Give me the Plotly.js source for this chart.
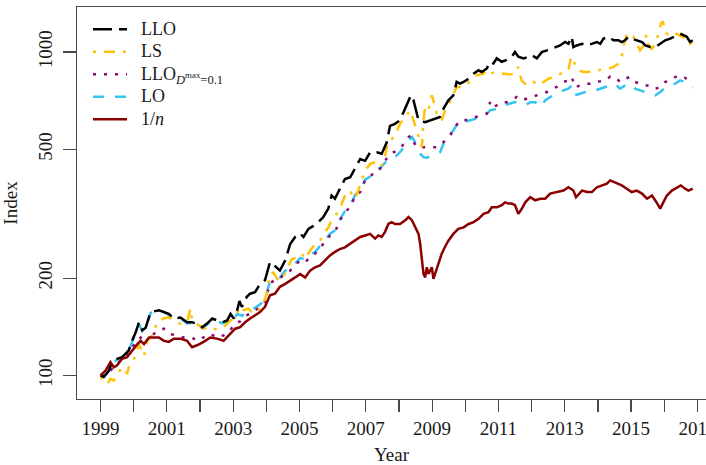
<!DOCTYPE html>
<html>
<head>
<meta charset="utf-8">
<script src="https://cdn.plot.ly/plotly-3.0.1.min.js"></script>
<style>
  html, body { margin: 0; padding: 0; background: #fff; }
  #chart { width: 706px; height: 465px; }
</style>
</head>
<body>
<div id="chart"></div>
<script>
// LLO portfolio index
const lloYears = [1999.00,1999.10,1999.25,1999.35,1999.50,1999.65,1999.75,1999.85,1999.95,2000.06,2000.16,2000.26,2000.36,2000.51,2000.76,2000.91,2001.06,2001.21,2001.41,2001.61,2001.76,2001.91,2002.07,2002.22,2002.37,2002.52,2002.67,2002.82,2002.92,2003.02,2003.12,2003.19,2003.26,2003.41,2003.51,2003.66,2003.81,2003.96,2004.11,2004.26,2004.41,2004.57,2004.72,2004.87,2005.02,2005.12,2005.27,2005.42,2005.57,2005.72,2005.87,2005.97,2006.07,2006.22,2006.37,2006.53,2006.68,2006.83,2006.98,2007.13,2007.33,2007.48,2007.63,2007.73,2007.88,2007.98,2008.14,2008.29,2008.36,2008.44,2008.52,2008.59,2008.79,2008.94,2009.09,2009.24,2009.34,2009.49,2009.64,2009.74,2009.84,2009.95,2010.10,2010.25,2010.40,2010.50,2010.65,2010.75,2010.85,2010.95,2011.10,2011.25,2011.40,2011.50,2011.60,2011.76,2011.91,2012.01,2012.16,2012.31,2012.46,2012.61,2012.76,2012.86,2013.01,2013.11,2013.21,2013.26,2013.36,2013.52,2013.67,2013.82,2013.97,2014.07,2014.17,2014.32,2014.47,2014.62,2014.72,2014.82,2014.92,2015.02,2015.17,2015.33,2015.43,2015.58,2015.73,2015.88,2016.03,2016.18,2016.33,2016.48,2016.58,2016.68,2016.78,2016.86];
const lloValues = [100,99,103.6,110,112.6,114,116.7,119.5,128,136,146,138,140.5,157,159,157,155,150,151,146,146,144.5,141,145,150,148,146,148,155,150,159,170,163,175,179,181,192,197,224,218,211,227,255,268,275,268,284,290,298,309,328,360,352,378,405,410,440,467,461,490,490,485,525,591,600,610,652,709,735,709,660,615,607,615,622,630,667,709,735,808,798,808,827,857,878,867,890,933,922,956,933,945,967,1000,967,956,967,978,956,1000,1012,1024,1036,1048,1074,1060,1115,1036,1048,1060,1048,1060,1074,1060,1100,1115,1087,1087,1074,1087,1115,1100,1087,1074,1048,1036,1036,1060,1087,1100,1118,1139,1128,1115,1074,1087];

// LS portfolio index
const lsYears = [1999.00,1999.10,1999.20,1999.30,1999.40,1999.50,1999.65,1999.75,1999.80,1999.85,1999.95,2000.06,2000.16,2000.26,2000.31,2000.41,2000.51,2000.61,2000.76,2000.91,2001.06,2001.21,2001.41,2001.61,2001.71,2001.76,2001.91,2002.11,2002.31,2002.51,2002.71,2002.86,2003.02,2003.17,2003.27,2003.31,2003.46,2003.61,2003.76,2003.91,2004.01,2004.11,2004.21,2004.36,2004.51,2004.67,2004.77,2004.92,2005.07,2005.17,2005.32,2005.47,2005.62,2005.77,2005.87,2005.97,2006.12,2006.27,2006.38,2006.53,2006.63,2006.73,2006.88,2006.98,2007.13,2007.28,2007.38,2007.48,2007.58,2007.68,2007.78,2007.88,2008.03,2008.19,2008.34,2008.44,2008.54,2008.64,2008.69,2008.74,2008.79,2008.89,2008.99,2009.04,2009.14,2009.29,2009.39,2009.49,2009.74,2009.95,2010.15,2010.35,2010.55,2010.65,2010.75,2010.90,2011.05,2011.20,2011.35,2011.50,2011.60,2011.70,2011.81,2011.96,2012.06,2012.21,2012.36,2012.51,2012.66,2012.76,2012.96,2013.11,2013.18,2013.24,2013.31,2013.41,2013.57,2013.72,2013.87,2014.02,2014.17,2014.32,2014.47,2014.62,2014.72,2014.79,2014.87,2014.97,2015.07,2015.17,2015.27,2015.38,2015.46,2015.53,2015.63,2015.73,2015.83,2015.90,2015.96,2016.03,2016.13,2016.23,2016.38,2016.53,2016.68,2016.78,2016.86];
const lsValues = [99,96.5,94,97.6,96.5,101,106,103.6,101,106,110,115,125,117,115,128,131,138,148,150,151.5,148,144.5,146,161,148,144.5,139.5,141,138.5,141,146,151.5,159,155,159,161,155,159,166.6,179,206,208,197,201,219,229,232,238,229,243,255,261,278,287,302,316,339,360,373,352,363,401,430,451,456,461,446,478,532,538,552,600,630,660,615,572,533,508,615,675,660,735,709,645,615,660,684,780,780,816,848,857,878,857,867,857,857,852,857,900,816,797,790,808,790,808,827,838,847,868,878,954,967,911,878,868,868,878,878,889,889,899,920,967,1060,1139,1115,1115,1060,1012,1048,1128,1048,1024,1060,1139,1222,1245,1152,1128,1115,1139,1115,1100,1060,1074];

// LLO with drawdown limit D^max = 0.1
const llodYears = [1999.00,1999.30,1999.50,1999.75,1999.95,2000.06,2000.21,2000.31,2000.46,2000.61,2000.76,2000.91,2001.06,2001.31,2001.51,2001.76,2001.91,2002.11,2002.31,2002.51,2002.71,2002.91,2003.06,2003.21,2003.36,2003.51,2003.66,2003.81,2003.96,2004.11,2004.26,2004.41,2004.57,2004.72,2004.87,2005.02,2005.17,2005.32,2005.47,2005.62,2005.77,2005.92,2006.07,2006.22,2006.37,2006.53,2006.68,2006.83,2006.98,2007.13,2007.28,2007.43,2007.58,2007.73,2007.88,2008.03,2008.19,2008.29,2008.36,2008.44,2008.54,2008.74,2008.94,2009.14,2009.24,2009.39,2009.54,2009.69,2009.84,2009.99,2010.15,2010.30,2010.45,2010.65,2010.75,2010.80,2010.95,2011.10,2011.25,2011.40,2011.55,2011.70,2011.86,2012.01,2012.16,2012.31,2012.46,2012.61,2012.76,2012.86,2012.96,2013.11,2013.21,2013.31,2013.47,2013.62,2013.77,2013.92,2014.07,2014.22,2014.37,2014.52,2014.67,2014.82,2014.97,2015.12,2015.27,2015.43,2015.58,2015.73,2015.88,2016.03,2016.18,2016.33,2016.48,2016.63,2016.76,2016.86];
const llodValues = [100,103.6,109,114,121,128,131,125,130,134.5,138,139.5,134.5,133,131,131,128,131,134.5,131,133,138,145,147,153,155,159,163,169,193,197,199,208,211,219,227,224,232,238,249,258,271,278,302,320,331,360,369,401,410,430,435,461,484,492,502,527,546,552,527,508,508,508,508,514,533,552,586,615,615,622,630,637,645,700,675,684,700,700,709,726,709,718,726,735,744,752,770,780,795,808,817,837,778,788,798,798,808,812,817,840,837,808,827,837,808,798,788,788,770,779,808,817,837,847,833,808,803];

// LO portfolio index
const loYears = [1999.00,1999.10,1999.25,1999.35,1999.50,1999.65,1999.75,1999.85,1999.95,2000.06,2000.16,2000.26,2000.36,2000.51,2000.76,2000.91,2001.06,2001.21,2001.41,2001.61,2001.76,2001.91,2002.07,2002.22,2002.37,2002.52,2002.67,2002.82,2002.92,2003.02,2003.12,2003.27,2003.36,2003.51,2003.66,2003.81,2003.96,2004.11,2004.26,2004.41,2004.57,2004.72,2004.87,2005.02,2005.17,2005.32,2005.47,2005.62,2005.77,2005.92,2006.07,2006.22,2006.37,2006.53,2006.68,2006.83,2006.98,2007.13,2007.28,2007.43,2007.58,2007.73,2007.88,2008.03,2008.19,2008.29,2008.39,2008.46,2008.54,2008.64,2008.74,2008.84,2008.94,2009.04,2009.14,2009.24,2009.34,2009.49,2009.64,2009.79,2009.95,2010.15,2010.30,2010.45,2010.60,2010.75,2010.95,2011.15,2011.35,2011.50,2011.65,2011.81,2011.96,2012.11,2012.26,2012.41,2012.56,2012.71,2012.96,2013.11,2013.21,2013.31,2013.47,2013.62,2013.77,2013.92,2014.07,2014.22,2014.37,2014.52,2014.67,2014.82,2014.97,2015.12,2015.27,2015.43,2015.58,2015.73,2015.88,2016.03,2016.18,2016.33,2016.48,2016.63,2016.76,2016.86];
const loValues = [100,99.5,103,109,112,113,116,119,127,135,144,137,140,156,160,157,154,149,150,145,145,143.5,140,144,149,147,145,147,152,149,155,153,156,158,162,166,172,196,199,201,211,215,222,231,228,236,241,252,262,274,281,304,322,334,362,372,403,412,432,438,455,460,473,490,514,533,546,533,508,485,473,471,475,478,485,490,520,546,572,607,607,615,622,630,637,660,667,684,692,700,692,684,700,700,675,709,726,740,761,770,788,735,743,752,752,761,770,775,788,798,770,788,798,770,761,752,747,735,752,775,788,798,817,808,788,775];

// Equally weighted (1/n) portfolio index
const eqYears = [1999.00,1999.15,1999.30,1999.40,1999.50,1999.65,1999.80,1999.95,2000.11,2000.21,2000.31,2000.46,2000.61,2000.76,2000.91,2001.06,2001.21,2001.41,2001.61,2001.76,2001.91,2002.11,2002.31,2002.51,2002.71,2002.91,2003.06,2003.21,2003.36,2003.51,2003.66,2003.81,2003.96,2004.11,2004.26,2004.41,2004.57,2004.72,2004.87,2005.02,2005.17,2005.32,2005.47,2005.62,2005.77,2005.92,2006.07,2006.22,2006.37,2006.53,2006.68,2006.83,2006.98,2007.13,2007.28,2007.38,2007.48,2007.58,2007.68,2007.78,2007.88,2008.03,2008.19,2008.29,2008.39,2008.49,2008.59,2008.64,2008.69,2008.74,2008.79,2008.84,2008.89,2008.99,2009.04,2009.09,2009.19,2009.29,2009.39,2009.49,2009.64,2009.79,2009.95,2010.10,2010.25,2010.40,2010.55,2010.70,2010.80,2010.95,2011.10,2011.20,2011.30,2011.40,2011.50,2011.60,2011.70,2011.81,2011.96,2012.11,2012.26,2012.41,2012.56,2012.76,2012.96,2013.11,2013.26,2013.34,2013.52,2013.67,2013.82,2013.97,2014.12,2014.27,2014.37,2014.47,2014.57,2014.72,2014.87,2015.02,2015.17,2015.33,2015.48,2015.63,2015.76,2015.88,2015.98,2016.08,2016.23,2016.38,2016.50,2016.63,2016.73,2016.86];
const eqValues = [100,103.6,110,106,107.5,112.6,114,119.5,125,128,125,131,131,131,128,127,130,130,128,122.3,124,127,131,130,128,134.5,139.5,141,146,150,153,157,163,177,179,188,192,197,201,206,201,211,216,219,227,235,241,246,249,255,261,268,271,274,265,271,268,278,294,298,294,294,302,309,302,287,274,255,227,206,201,216,206,216,199,206,221,238,250,261,274,284,287,294,298,305,316,320,331,331,336,343,340,340,336,316,327,343,356,348,352,352,365,369,373,382,373,356,373,369,369,382,387,392,401,397,392,387,378,369,373,365,352,360,344,328,344,360,373,382,387,378,373,378];

// Axis ticks: labelled every other year, a plain tick in between
const xLabelYears = [1999,2001,2003,2005,2007,2009,2011,2013,2015,2017];
const xLabelText = ["1999","2001","2003","2005","2007","2009","2011","2013","2015","2017"];
const yTickValues = [100,200,500,1000];
const yTickLabels = ["100","200","500","1000"];

const FONT = "Liberation Serif, Times New Roman, serif";
const AXIS_COLOR = "#4a4a4a";

// legend rows stay compact (legend font 15px) while the entry text is drawn at 18px,
// with a little extra room between the line sample and the text
function big(s) { return '<span style="font-size:18px">&nbsp;&nbsp;' + s + '</span>'; }

function series(x, y, name, color, dash, rank) {
  return {
    type: "scatter", mode: "lines", x: x, y: y, name: big(name),
    legendrank: rank,
    line: { color: color, width: 2.5, dash: dash },
    hoverinfo: "skip"
  };
}

// Drawing order: the 1/n line sits on top, LO underneath
const traces = [
  series(loYears, loValues, "LO", "#35C3F2", "11px,11px", 4),
  series(llodYears, llodValues, "LLO<sub><i>D</i><sup>max</sup>=0.1</sub>", "#8E0B6E", "3px,8px", 3),
  series(lsYears, lsValues, "LS", "#FFC20A", "3px,8px,11px,8px", 2),
  series(lloYears, lloValues, "LLO", "#000000", "19px,7px", 1),
  series(eqYears, eqValues, "1/<i>n</i>", "#8B0000", "solid", 5)
];

const layout = {
  width: 706,
  height: 465,
  margin: { l: 77, r: 0, t: 7, b: 66 },
  paper_bgcolor: "#ffffff",
  plot_bgcolor: "#ffffff",
  font: { family: FONT, size: 19, color: "#1a1a1a" },
  showlegend: true,
  legend: {
    x: 0.0175, y: 0.985, xanchor: "left", yanchor: "top",
    bgcolor: "rgba(0,0,0,0)", borderwidth: 0,
    font: { family: FONT, size: 15, color: "#1a1a1a" },
    tracegroupgap: 0, itemwidth: 34
  },
  xaxis: {
    range: [1998.29, 2017.26],
    showgrid: false, zeroline: false,
    showline: true, linecolor: AXIS_COLOR, linewidth: 1.3, mirror: true,
    ticks: "outside", ticklen: 12, tickwidth: 1.2, tickcolor: AXIS_COLOR,
    tickmode: "array", tickvals: xLabelYears, ticktext: xLabelText,
    ticklabeloverflow: "allow",
    minor: { dtick: 1, tick0: 1999, ticks: "outside", ticklen: 12, tickwidth: 1.2, tickcolor: AXIS_COLOR, showgrid: false },
    tickfont: { family: FONT, size: 19 },
    title: { text: "Year", font: { family: FONT, size: 19 }, standoff: 10 }
  },
  yaxis: {
    type: "log",
    range: [1.9273, 3.1392],
    showgrid: false, zeroline: false,
    showline: true, linecolor: AXIS_COLOR, linewidth: 1.3, mirror: false,
    ticks: "outside", ticklen: 13, tickwidth: 1.2, tickcolor: AXIS_COLOR,
    tickmode: "array", tickvals: yTickValues, ticktext: yTickLabels,
    tickangle: -90, ticklabelstandoff: 3,
    tickfont: { family: FONT, size: 19 },
    title: { text: "Index", font: { family: FONT, size: 19 }, standoff: 12 }
  }
};

Plotly.newPlot("chart", traces, layout, { displayModeBar: false, staticPlot: true });
</script>
</body>
</html>
